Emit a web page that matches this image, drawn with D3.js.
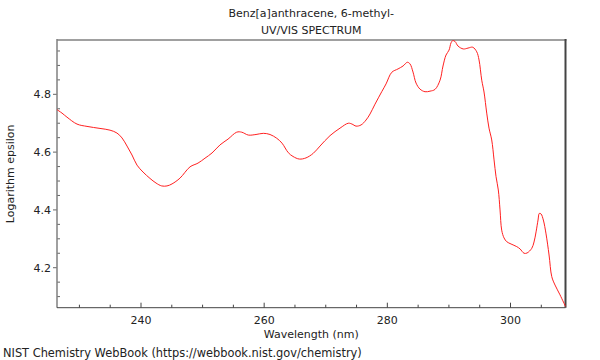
<!DOCTYPE html>
<html><head><meta charset="utf-8">
<script src="https://cdn.jsdelivr.net/npm/d3@7"></script>
<style>body{margin:0;background:#fff}svg{display:block}text{font-family:"DejaVu Sans",sans-serif;font-size:11px;fill:#222}</style>
</head><body><svg id="c" width="600" height="360"></svg>
<script>
const title = ["Benz[a]anthracene, 6-methyl-", "UV/VIS SPECTRUM"];
const xLabel = "Wavelength (nm)";
const yLabel = "Logarithm epsilon";
const footer = "NIST Chemistry WebBook (https://webbook.nist.gov/chemistry)";
const xTicks = [240, 260, 280, 300];
const yTicks = [4.2, 4.4, 4.6, 4.8];
const wavelength = [226.36,227.17,227.98,229.61,231.23,233.34,234.97,236.10,236.92,237.73,238.54,239.35,240.33,241.46,242.44,243.36,244.22,245.04,246.33,247.96,249.26,250.39,251.53,252.83,254.13,255.54,256.35,257.43,258.68,259.86,260.95,262.04,262.90,263.92,264.68,265.71,266.79,267.98,269.07,270.69,272.32,273.66,274.27,274.92,275.73,276.54,277.19,278.00,279.09,279.79,280.71,281.74,282.55,283.25,283.69,284.17,284.66,285.31,286.12,286.93,287.74,288.56,289.04,289.53,290.02,290.34,290.62,290.99,291.48,292.34,293.10,293.87,294.52,294.89,295.33,295.70,296.14,296.51,296.95,297.33,297.65,298.02,298.30,298.57,298.95,299.39,300.09,301.01,301.55,302.20,302.69,303.45,303.82,304.15,304.47,304.68,304.96,305.33,305.77,306.26,306.70,307.23,308.04,308.93];
const logEps = [4.747,4.735,4.721,4.697,4.689,4.682,4.676,4.666,4.649,4.621,4.590,4.555,4.531,4.509,4.493,4.483,4.483,4.490,4.510,4.549,4.562,4.579,4.597,4.625,4.645,4.669,4.669,4.659,4.661,4.665,4.661,4.648,4.631,4.598,4.585,4.576,4.580,4.596,4.621,4.657,4.683,4.700,4.697,4.690,4.694,4.711,4.732,4.766,4.809,4.836,4.876,4.888,4.898,4.911,4.905,4.877,4.839,4.818,4.809,4.811,4.817,4.849,4.898,4.936,4.953,4.978,4.986,4.983,4.967,4.957,4.960,4.963,4.947,4.919,4.849,4.808,4.735,4.683,4.642,4.573,4.515,4.469,4.400,4.330,4.303,4.290,4.282,4.273,4.265,4.250,4.251,4.267,4.289,4.324,4.365,4.388,4.386,4.365,4.317,4.244,4.169,4.140,4.106,4.066];

const svg = d3.select("#c");
const L = 57, R = 565.5, T = 40, B = 307.7;
const x = d3.scaleLinear().domain([226.36, 308.93]).range([L, R]);
const y = d3.scaleLinear().domain([4.0616, 4.988]).range([B, T]);
const cx = (L + R) / 2;

svg.append("text").attr("x", cx).attr("y", 17).attr("text-anchor", "middle").text(title[0]);
svg.append("text").attr("x", cx).attr("y", 34).attr("text-anchor", "middle").text(title[1]);

// minor ticks
const xMinor = d3.range(230, 309, 5).filter(v => !xTicks.includes(v));
const yMinor = d3.range(4.1, 4.99, 0.05).map(v => +v.toFixed(2)).filter(v => !yTicks.includes(v));
const g = svg.append("g");
g.selectAll(".xm").data(xMinor).join("line").attr("x1", d => x(d)).attr("x2", d => x(d)).attr("y1", B).attr("y2", B - 3).attr("stroke", "#444");
g.selectAll(".xM").data(xTicks).join("line").attr("x1", d => x(d)).attr("x2", d => x(d)).attr("y1", B).attr("y2", B - 5).attr("stroke", "#444");
g.selectAll(".ym").data(yMinor).join("line").attr("x1", L).attr("x2", L + 3).attr("y1", d => y(d)).attr("y2", d => y(d)).attr("stroke", "#666");
g.selectAll(".yM").data(yTicks).join("line").attr("x1", L - 4).attr("x2", L).attr("y1", d => y(d)).attr("y2", d => y(d)).attr("stroke", "#666");
g.selectAll(".xl").data(xTicks).join("text").attr("x", d => x(d)).attr("y", 324).attr("text-anchor", "middle").text(d => d);
g.selectAll(".yl").data(yTicks).join("text").attr("x", L - 6).attr("y", d => y(d) + 4).attr("text-anchor", "end").text(d => d.toFixed(1));

// frame
svg.append("line").attr("x1", L).attr("x2", R + 1).attr("y1", T).attr("y2", T).attr("stroke", "#a0a0a0").attr("stroke-width", 2);
svg.append("line").attr("x1", R).attr("x2", R).attr("y1", T - 1).attr("y2", B).attr("stroke", "#444").attr("stroke-width", 2);
svg.append("line").attr("x1", L).attr("x2", L).attr("y1", T - 1).attr("y2", B).attr("stroke", "#808080").attr("stroke-width", 1.5);
svg.append("line").attr("x1", L).attr("x2", R).attr("y1", B).attr("y2", B).attr("stroke", "#444").attr("stroke-width", 1);

const line = d3.line().x((d, i) => x(wavelength[i])).y(d => y(d)).curve(d3.curveCatmullRom.alpha(0.5));
svg.append("path").attr("d", line(logEps)).attr("fill", "none").attr("stroke", "#ff2020").attr("stroke-width", 1);

svg.append("text").attr("x", cx).attr("y", 337.5).attr("text-anchor", "middle").text(xLabel);
svg.append("text").attr("transform", `translate(14,${(T + B) / 2}) rotate(-90)`).attr("text-anchor", "middle").text(yLabel);
svg.append("text").attr("x", 3).attr("y", 357).style("font-size", "11.4px").text(footer);
</script></body></html>
